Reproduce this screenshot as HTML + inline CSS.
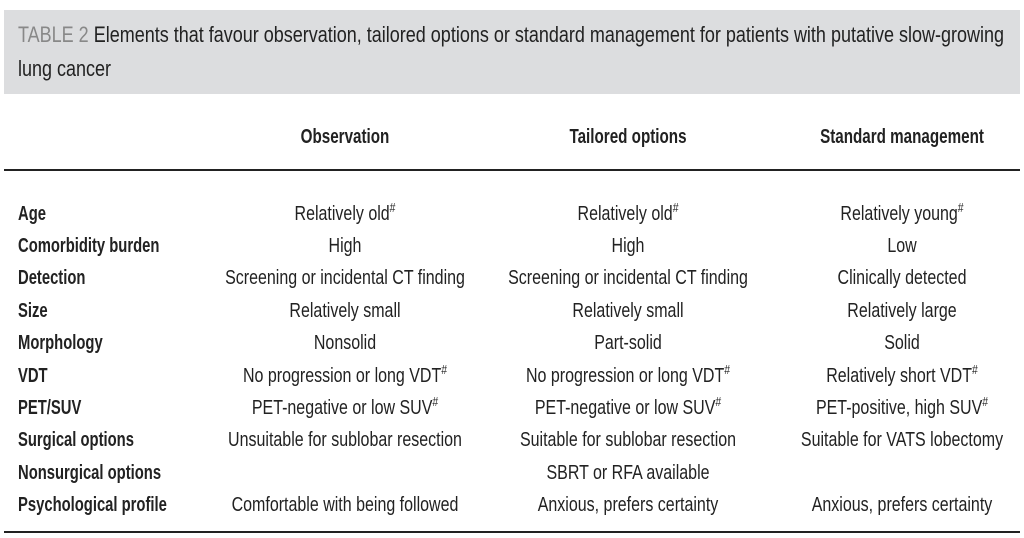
<!DOCTYPE html>
<html><head><meta charset="utf-8"><style>
body{margin:0;width:1024px;height:538px;background:#fff;position:relative;overflow:hidden;font-family:"Liberation Sans",sans-serif;color:#222}
.band{position:absolute;left:4px;top:10px;width:1016px;height:84px;background:#dcdddf}
.t{position:absolute;white-space:nowrap;font-size:22px;transform-origin:left center;transform:scaleX(0.818);line-height:1}
.l{position:absolute;left:18px;white-space:nowrap;font-size:20px;font-weight:bold;transform-origin:left center;transform:translateY(-50%) scaleX(0.74);line-height:1}
.c{position:absolute;white-space:nowrap;font-size:20px;transform:translate(-50%,-50%) scaleX(0.8);line-height:1}
.h{font-weight:bold;transform:translate(-50%,-50%) scaleX(0.76)}
sup{font-size:13px;vertical-align:top;position:relative;top:-3px}
.rule{position:absolute;left:4px;width:1016px;height:2px;background:#222}
</style></head><body>
<div class="band"></div>
<div class="t" style="left:18px;top:24px"><span style="color:#888">TABLE 2</span> Elements that favour observation, tailored options or standard management for patients with putative slow-growing</div>
<div class="t" style="left:18px;top:58px">lung cancer</div>

<div class="c h" style="left:345px;top:137px">Observation</div>
<div class="c h" style="left:628px;top:137px">Tailored options</div>
<div class="c h" style="left:902px;top:137px">Standard management</div>
<div class="rule" style="top:169px"></div>
<div class="rule" style="top:531px"></div>

<div id="rows"></div>
<script>
const labels=["Age","Comorbidity burden","Detection","Size","Morphology","VDT","PET/SUV","Surgical options","Nonsurgical options","Psychological profile"];
const obs=["Relatively old#","High","Screening or incidental CT finding","Relatively small","Nonsolid","No progression or long VDT#","PET-negative or low SUV#","Unsuitable for sublobar resection","","Comfortable with being followed"];
const tail=["Relatively old#","High","Screening or incidental CT finding","Relatively small","Part-solid","No progression or long VDT#","PET-negative or low SUV#","Suitable for sublobar resection","SBRT or RFA available","Anxious, prefers certainty"];
const std=["Relatively young#","Low","Clinically detected","Relatively large","Solid","Relatively short VDT#","PET-positive, high SUV#","Suitable for VATS lobectomy","","Anxious, prefers certainty"];
const ys=[214,246,278,311,343,376,408,440,473,505];
const root=document.getElementById('rows');
function fmt(s){return s.replace('#','<sup>#</sup>');}
labels.forEach((lab,i)=>{
  const d=document.createElement('div');d.className='l';d.style.top=ys[i]+'px';d.textContent=lab;
  
  
  root.appendChild(d);
  [[obs,345,'cell-observation'],[tail,628,'cell-tailored'],[std,902,'cell-standard']].forEach(([arr,x,nm])=>{
    if(!arr[i])return;
    const c=document.createElement('div');c.className='c';c.style.left=x+'px';c.style.top=ys[i]+'px';c.innerHTML=fmt(arr[i]);
    
    
    root.appendChild(c);
  });
});
</script>
</body></html>
